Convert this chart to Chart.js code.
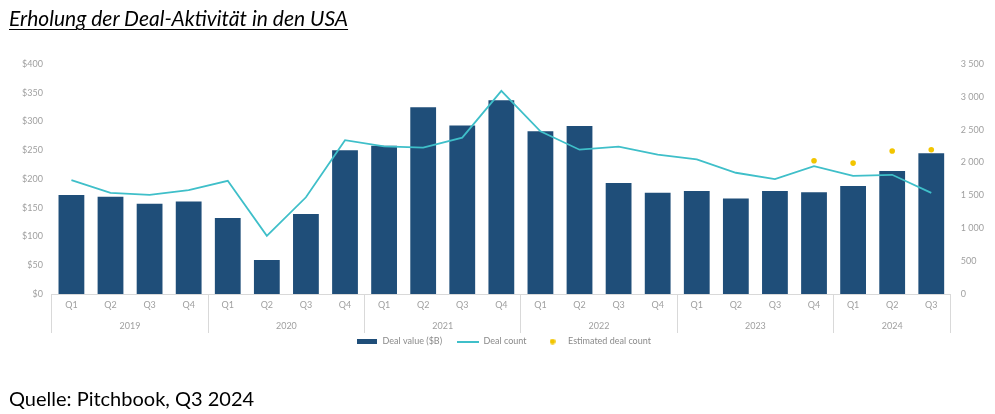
<!DOCTYPE html>
<html>
<head>
<meta charset="utf-8">
<script src="https://cdn.jsdelivr.net/npm/chart.js@4"></script>
<style>
  body { margin: 0; background: #fff; }
  #wrap { position: relative; width: 995px; height: 414px; }
  #chart { position: absolute; left: 0; top: 0; }
  .title { position: absolute; left: 9px; top: 7px; font: italic 21px/21px Lato, sans-serif; color: #000; text-decoration: underline; text-decoration-thickness: 1px; text-underline-offset: 3px; white-space: nowrap; }
  .source { position: absolute; left: 9px; top: 388px; font: 20px/20px Lato, sans-serif; color: #000; white-space: nowrap; }
</style>
</head>
<body>
<div id="wrap">
  <canvas id="chart" width="995" height="414"></canvas>
  <div class="title">Erholung der Deal-Aktivität in den USA</div>
  <div class="source">Quelle: Pitchbook, Q3 2024</div>
</div>
<script>
// data
const quarters = ["Q1", "Q2", "Q3", "Q4", "Q1", "Q2", "Q3", "Q4", "Q1", "Q2", "Q3", "Q4",
  "Q1", "Q2", "Q3", "Q4", "Q1", "Q2", "Q3", "Q4", "Q1", "Q2", "Q3"];
const years = ["2019", "2020", "2021", "2022", "2023", "2024"];
const quartersPerYear = [4, 4, 4, 4, 4, 3];
const dealValue = [172, 169, 157, 161, 132, 59, 139, 250, 258, 325, 293, 337,
  283, 292, 193, 176, 179, 166, 179, 177, 188, 214, 245];
const dealCount = [1732, 1539, 1508, 1579, 1722, 886, 1472, 2340, 2247, 2227, 2380, 3092,
  2476, 2196, 2242, 2120, 2048, 1845, 1747, 1946, 1799, 1814, 1539];
const estimatedCount = [null, null, null, null, null, null, null, null, null, null, null, null,
  null, null, null, null, null, null, null, 2028, 1992, 2175, 2196];

const navy = "#1f4e79";
const teal = "#3fbfc9";
const gold = "#f2c500";
const tickGrey = "#a0a0a0";
const lineGrey = "#d9d9d9";

// centre of each year group and the group edges, in category units
var yearCenters = [];
var yearEdges = [0];
var start = 0;
quartersPerYear.forEach(function (n) {
  yearCenters.push(start + (n - 1) / 2);
  start += n;
  yearEdges.push(start);
});

function icon(w, h, draw) {
  var c = document.createElement("canvas");
  c.width = w;
  c.height = h;
  draw(c.getContext("2d"));
  return c;
}
var legendIcons = [
  icon(20, 5, function (g) { g.fillStyle = navy; g.fillRect(0, 0, 20, 5); }),
  icon(22, 2, function (g) { g.fillStyle = teal; g.fillRect(0, 0, 22, 2); }),
  icon(6, 6, function (g) { g.fillStyle = gold; g.beginPath(); g.arc(3, 3, 2.8, 0, Math.PI * 2); g.fill(); })
];

function thousands(v) {
  return v >= 1000 ? Math.floor(v / 1000) + " " + String(v % 1000).padStart(3, "0") : String(v);
}

var ctx = document.getElementById("chart").getContext("2d");
var myChart = new Chart(ctx, {
  type: "bar",
  data: {
    labels: quarters,
    datasets: [
      {
        label: "Deal value ($B)",
        data: dealValue,
        backgroundColor: navy,
        yAxisID: "y",
        categoryPercentage: 1,
        barPercentage: 0.66,
        order: 3,
      },
      {
        type: "line",
        label: "Deal count",
        data: dealCount,
        borderColor: teal,
        backgroundColor: teal,
        borderWidth: 1.8,
        pointRadius: 0,
        tension: 0,
        yAxisID: "y1",
        order: 1,
      },
      {
        type: "line",
        label: "Estimated deal count",
        data: estimatedCount,
        showLine: false,
        pointRadius: 2.8,
        pointBackgroundColor: gold,
        pointBorderWidth: 0,
        backgroundColor: gold,
        yAxisID: "y1",
        order: 0,
      },
    ],
  },
  options: {
    responsive: false,
    animation: false,
    layout: { padding: { top: 64, left: 13, right: 1, bottom: 58 } },
    plugins: {
      tooltip: { enabled: false },
      legend: {
        position: "bottom",
        labels: {
          usePointStyle: true,
          pointStyleWidth: 22,
          boxHeight: 9,
          padding: 15,
          color: "#8a8a8a",
          font: { family: "Lato", size: 9 },
          generateLabels: function (chart) {
            var items = Chart.defaults.plugins.legend.labels.generateLabels(chart);
            items.sort(function (a, b) { return a.datasetIndex - b.datasetIndex; });
            items.forEach(function (it) { it.pointStyle = legendIcons[it.datasetIndex]; });
            return items;
          },
        },
      },
    },
    scales: {
      x: {
        type: "category",
        position: "bottom",
        offset: true,
        weight: 0,
        border: { display: true, color: lineGrey, width: 1 },
        grid: {
          offset: true,
          drawOnChartArea: false,
          drawTicks: true,
          tickLength: 39,
          lineWidth: 1,
          color: function (c) {
            return (c.index === undefined || yearEdges.indexOf(c.index) >= 0) ? lineGrey : "rgba(0,0,0,0)";
          },
        },
        ticks: {
          padding: -33,
          maxRotation: 0,
          autoSkip: false,
          color: tickGrey,
          font: { family: "Lato", size: 9 },
        },
        afterFit: function (axis) { axis.height = 18; },
      },
      x2: {
        type: "linear",
        position: "bottom",
        weight: 1,
        offset: false,
        min: -0.5,
        max: quarters.length - 0.5,
        border: { display: false },
        grid: { display: false, drawTicks: false, offset: false },
        afterBuildTicks: function (axis) {
          axis.ticks = yearCenters.map(function (v) { return { value: v }; });
        },
        ticks: {
          mirror: true,
          padding: -19,
          align: "center",
          maxRotation: 0,
          autoSkip: false,
          color: tickGrey,
          font: { family: "Lato", size: 9 },
          callback: function (v, i) { return years[i]; },
        },
        afterFit: function (axis) { axis.height = 10; },
      },
      y: {
        position: "left",
        min: 0,
        max: 400,
        border: { display: false },
        grid: { display: false, drawTicks: false },
        ticks: {
          stepSize: 50,
          padding: 9,
          color: tickGrey,
          font: { family: "Lato", size: 9 },
          callback: function (v) { return "$" + v; },
        },
      },
      y1: {
        position: "right",
        min: 0,
        max: 3500,
        border: { display: false },
        grid: { display: false, drawTicks: false },
        ticks: {
          stepSize: 500,
          padding: 10,
          color: tickGrey,
          font: { family: "Lato", size: 9 },
          callback: function (v) { return thousands(v); },
        },
      },
    },
  },
});
</script>
</body>
</html>
